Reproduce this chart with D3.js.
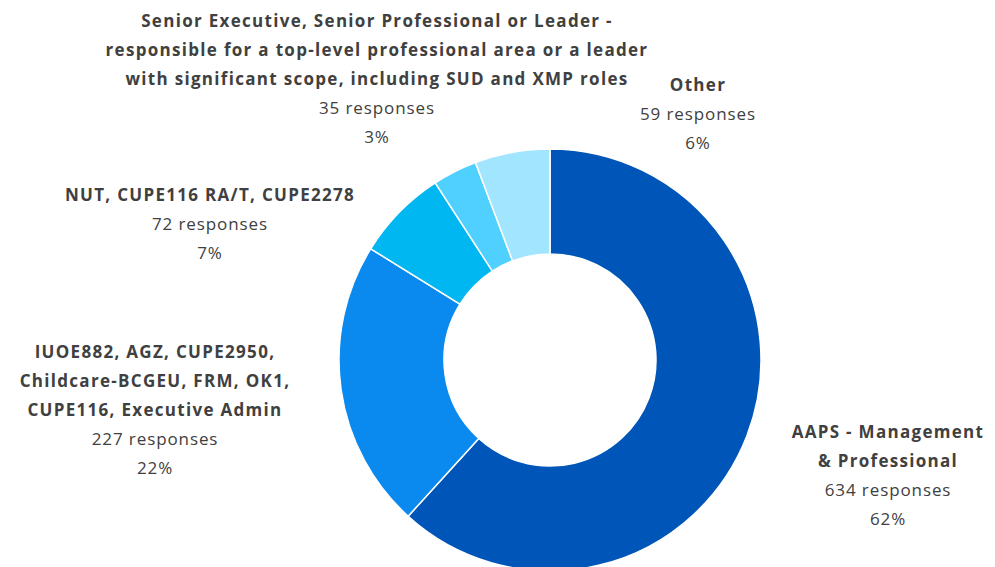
<!DOCTYPE html>
<html>
<head>
<meta charset="utf-8">
<script src="https://cdn.jsdelivr.net/npm/d3@7"></script>
<style>
  body { margin: 0; background: #fff; }
  text { font-family: "Open Sans", sans-serif; fill: #404040; }
  .name { font-weight: bold; letter-spacing: 1.3px; }
  .val { letter-spacing: 0.9px; }
</style>
</head>
<body>
<svg width="995" height="567"></svg>
<script>
var svg = d3.select('svg');

// slices, clockwise from 12 o'clock
var categories = [
  'AAPS - Management & Professional',
  'IUOE882, AGZ, CUPE2950, Childcare-BCGEU, FRM, OK1, CUPE116, Executive Admin',
  'NUT, CUPE116 RA/T, CUPE2278',
  'Senior Executive, Senior Professional or Leader - responsible for a top-level professional area or a leader with significant scope, including SUD and XMP roles',
  'Other'
];
var responses = [634, 227, 72, 35, 59];
var percents = ['62%', '22%', '7%', '3%', '6%'];
// label name lines as they wrap in the original
var nameLines = [
  ['AAPS - Management', '& Professional'],
  ['IUOE882, AGZ, CUPE2950,', 'Childcare-BCGEU, FRM, OK1,', 'CUPE116, Executive Admin'],
  ['NUT, CUPE116 RA/T, CUPE2278'],
  ['Senior Executive, Senior Professional or Leader -', 'responsible for a top-level professional area or a leader', 'with significant scope, including SUD and XMP roles'],
  ['Other']
];
var colors = ['#0055b8', '#0a89ee', '#00b7f1', '#4fd0ff', '#a2e5ff'];

var cx = 550, cy = 360;
var outerR = 211, innerR = 106;
var lineH = 29;

// label anchor: centre x and first-line centre y
var labelPos = [
  [888, 432],
  [155, 352],
  [210, 195],
  [377, 21],
  [698, 85]
];

var data = categories.map(function(c, i) {
  return { name: c, value: responses[i], pct: percents[i], lines: nameLines[i], color: colors[i], pos: labelPos[i] };
});

var pie = d3.pie()
  .value(d => d.value)
  .sort(null);
var arc = d3.arc()
  .innerRadius(innerR)
  .outerRadius(outerR);

var chartG = svg.append('g')
  .attr('transform', 'translate(' + [cx, cy] + ')');

chartG.selectAll('.slice')
  .data(pie(data))
  .enter()
  .append('path')
  .attr('class', 'slice')
  .attr('d', arc)
  .style('fill', d => d.data.color)
  .style('stroke', '#fff')
  .style('stroke-width', 1.5);

var labels = svg.selectAll('.label')
  .data(data)
  .enter()
  .append('text')
  .attr('class', 'label')
  .attr('text-anchor', 'middle')
  .attr('font-size', 17);

labels.each(function(d) {
  var t = d3.select(this);
  var rows = d.lines.map(l => ({ text: l, bold: true }))
    .concat([{ text: d.value + ' responses', bold: false }, { text: d.pct, bold: false }]);
  rows.forEach(function(r, i) {
    t.append('tspan')
      .attr('x', d.pos[0])
      .attr('y', d.pos[1] + i * lineH)
      .attr('dy', '0.35em')
      .attr('class', r.bold ? 'name' : 'val')
      .text(r.text);
  });
});
</script>
</body>
</html>
